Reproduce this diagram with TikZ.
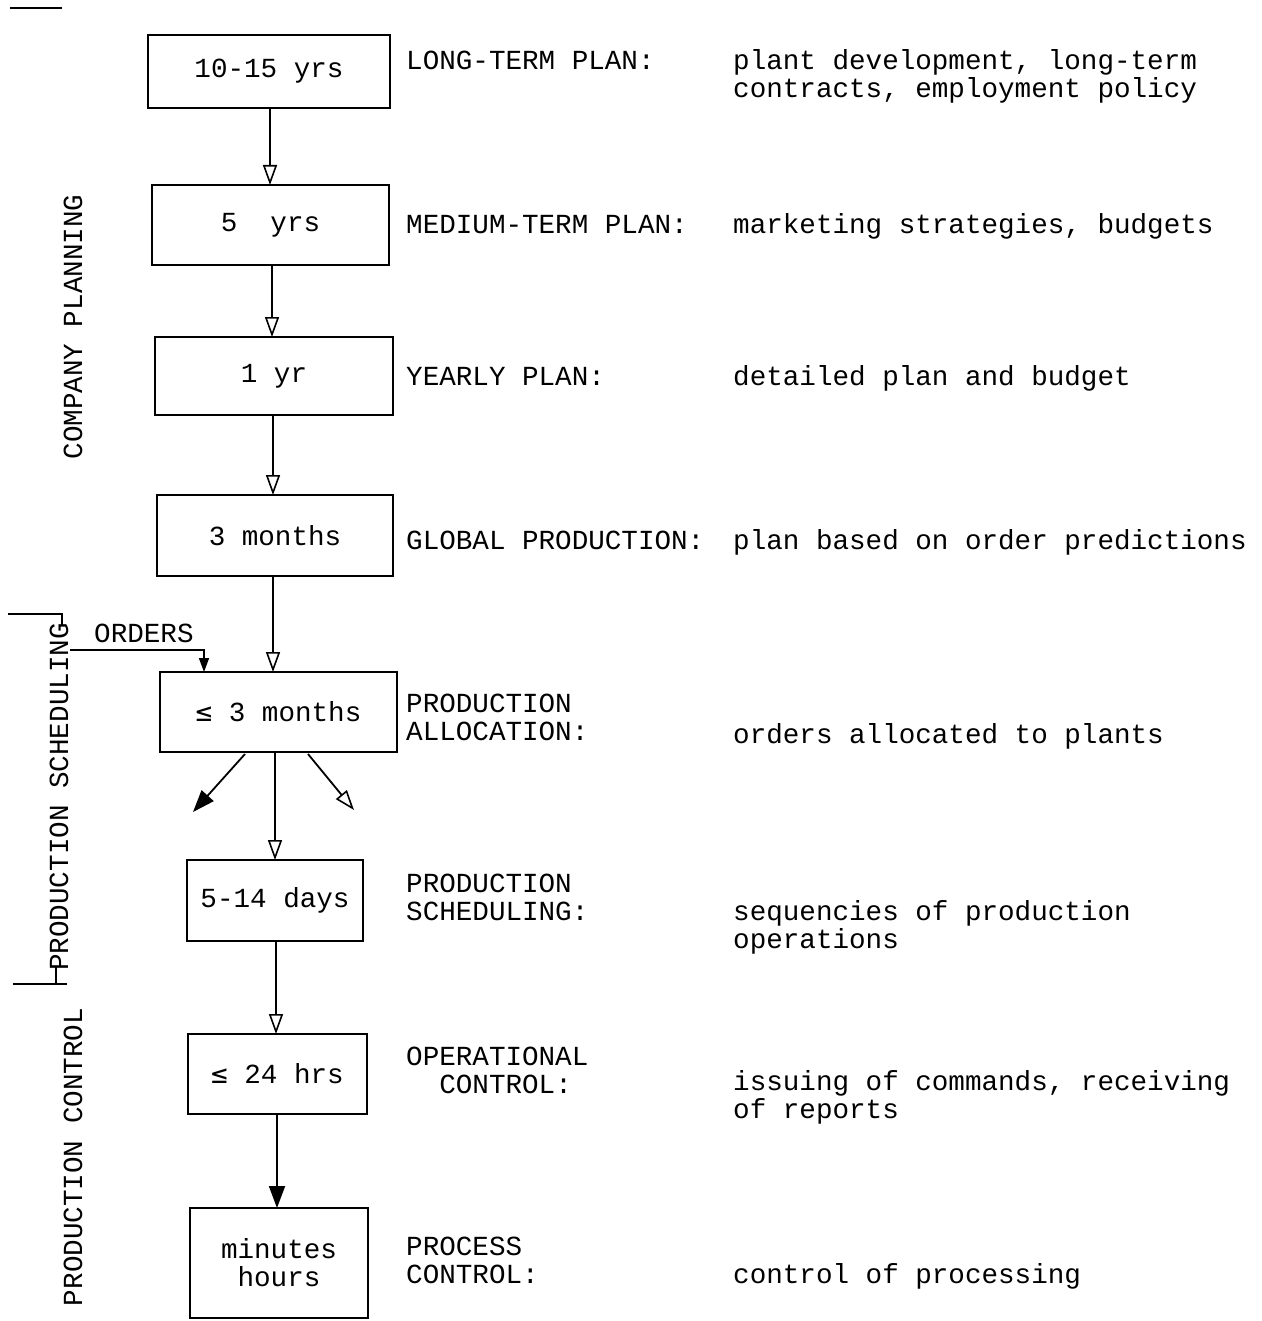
\documentclass[tikz,border=0pt]{standalone}
\usepackage{fontspec}
\setmainfont{Liberation Mono}
\newfontfamily\dvm{DejaVu Sans Mono}
\usetikzlibrary{arrows.meta}
\begin{document}
\begin{tikzpicture}[x=1pt,y=-1pt,
  every node/.style={font=\fontsize{27.6}{28}\selectfont, inner sep=0pt},
  stagebox/.style={draw, line width=2.6pt, align=center},
  lbl/.style={anchor=base west, align=left},
  side/.style={rotate=90, anchor=center},
  flow/.style={line width=1.8pt, -{Triangle[open, length=20pt, width=14pt, line width=1.6pt]}},
  flowf/.style={line width=1.8pt, -{Triangle[length=22pt, width=16pt]}},
  rule/.style={line width=2pt}]
\useasboundingbox (0,0) rectangle (1261,1321);
% boxes
\node[stagebox, minimum width=242pt, minimum height=73pt] (b1) at (269,71.5) {10-15 yrs};
\node[stagebox, minimum width=237pt, minimum height=80pt] (b2) at (270.5,225) {5\ \ yrs};
\node[stagebox, minimum width=238pt, minimum height=78pt] (b3) at (274,376) {1 yr};
\node[stagebox, minimum width=236pt, minimum height=81pt] (b4) at (275,535.5) {3 months};
\node[stagebox, minimum width=237pt, minimum height=80pt] (b5) at (278.5,712) {{\dvm ≤} 3 months};
\node[stagebox, minimum width=176pt, minimum height=81pt] (b6) at (275,900.5) {5-14 days};
\node[stagebox, minimum width=179pt, minimum height=80pt] (b7) at (277.5,1074) {{\dvm ≤} 24 hrs};
\node[stagebox, minimum width=178pt, minimum height=110pt] (b8) at (279,1263) {minutes\\hours};
% vertical connectors
\coordinate (t2) at (270,185); \coordinate (s1) at (270,108);
\coordinate (s2) at (272,265); \coordinate (t3) at (272,337);
\coordinate (s3) at (273,415); \coordinate (t4) at (273,495);
\coordinate (s4) at (273,576); \coordinate (t5) at (273,672);
\coordinate (s5) at (275,752); \coordinate (t6) at (275,860);
\coordinate (s6) at (276,941); \coordinate (t7) at (276,1034);
\coordinate (s7) at (277,1114); \coordinate (t8) at (277,1208);
\draw[flow] (s1) -- (t2);
\draw[flow] (s2) -- (t3);
\draw[flow] (s3) -- (t4);
\draw[flow] (s4) -- (t5);
\draw[flow] (s5) -- (t6);
\draw[flow] (s6) -- (t7);
\draw[flowf] (s7) -- (t8);
% diagonal arrows
\coordinate (dl0) at (245,754); \coordinate (dl1) at (193,812);
\coordinate (dr0) at (308,754); \coordinate (dr1) at (354,810);
\draw[flowf] (dl0) -- (dl1);
\draw[flow] (dr0) -- (dr1);
% orders
\coordinate (o0) at (70,650); \coordinate (o1) at (204,650); \coordinate (o2) at (204,672);
\node[anchor=base west] (ordl) at (94,642) {ORDERS};
\draw[line width=1.6pt, -{Triangle[length=14pt, width=10pt]}] (o0) -- (o1) -- (o2);
% middle labels (base = last line)
\node[lbl] (m1) at (406,70) {LONG-TERM PLAN:};
\node[lbl] (m2) at (406,234) {MEDIUM-TERM PLAN:};
\node[lbl] (m3) at (406,385) {YEARLY PLAN:};
\node[lbl] (m4) at (406,549) {GLOBAL PRODUCTION:};
\node[lbl] (m5) at (406,740) {PRODUCTION\\ALLOCATION:};
\node[lbl] (m6) at (406,920) {PRODUCTION\\SCHEDULING:};
\node[lbl] (m7) at (406,1093) {OPERATIONAL\\\ \ CONTROL:};
\node[lbl] (m8) at (406,1283) {PROCESS\\CONTROL:};
% descriptions
\node[lbl] (d1) at (733,98) {plant development, long-term\\contracts, employment policy};
\node[lbl] (d2) at (733,234) {marketing strategies, budgets};
\node[lbl] (d3) at (733,385) {detailed plan and budget};
\node[lbl] (d4) at (733,549) {plan based on order predictions};
\node[lbl] (d5) at (733,743) {orders allocated to plants};
\node[lbl] (d6) at (733,948) {sequencies of production\\operations};
\node[lbl] (d7) at (733,1118) {issuing of commands, receiving\\of reports};
\node[lbl] (d8) at (733,1283) {control of processing};
% side labels
\node[side] (sl1) at (73,327) {COMPANY PLANNING};
\node[side] (sl2) at (59,797) {PRODUCTION SCHEDULING};
\node[side] (sl3) at (73,1157) {PRODUCTION CONTROL};
% rules
\draw[rule] (10,8) -- (62,8);
\draw[rule] (8,614) -- (62,614) -- (62,626);
\draw[rule] (13,984) -- (67,984);
\draw[rule] (56,966) -- (56,984);
\end{tikzpicture}
\end{document}
